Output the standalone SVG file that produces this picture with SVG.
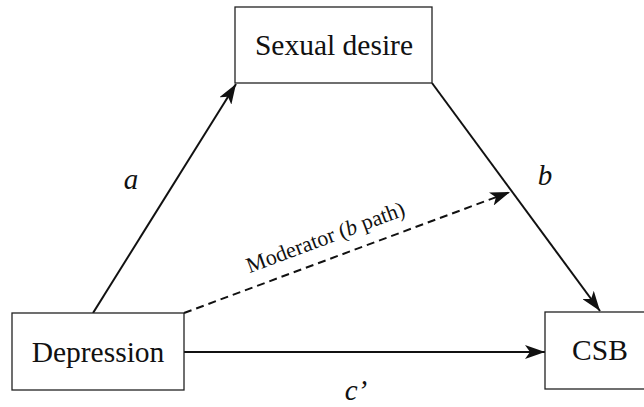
<svg xmlns="http://www.w3.org/2000/svg" width="644" height="407" viewBox="0 0 644 407">
<style>
.box{fill:#fff;stroke:#222;stroke-width:1.3}
.lbl{font-family:"Liberation Serif","Times New Roman",serif;font-size:29.5px;fill:#111;text-anchor:middle}
.it{font-family:"Liberation Serif","Times New Roman",serif;font-style:italic;font-size:29px;fill:#111;text-anchor:middle}
.mod{font-family:"Liberation Serif","Times New Roman",serif;font-size:22px;fill:#111;text-anchor:middle}
.edge{stroke:#111;stroke-width:2;fill:none}
.dash{stroke-dasharray:8,5}
</style>
<defs>
<marker id="ah" viewBox="0 0 20 14" refX="20" refY="7" markerWidth="20" markerHeight="14" markerUnits="userSpaceOnUse" orient="auto">
<path d="M0,0 L20,7 L0,14 L5,7 Z" fill="#111"/>
</marker>
</defs>
<g id="connectors">
<line class="edge" x1="93" y1="313" x2="236" y2="84" marker-end="url(#ah)"/>
<line class="edge" x1="432" y1="83" x2="600" y2="311" marker-end="url(#ah)"/>
<line class="edge dash" x1="184" y1="313" x2="510" y2="192" marker-end="url(#ah)"/>
<line class="edge" x1="184" y1="352" x2="545" y2="352" marker-end="url(#ah)"/>
<text class="it" x="131" y="189">a</text>
<text class="it" x="545" y="185">b</text>
<text class="it" x="356" y="400">c’</text>
<text class="mod" transform="translate(328,244) rotate(-20.4)">Moderator (<tspan font-style="italic">b</tspan> path)</text>
</g>
<g id="sexual-desire">
<rect class="box" x="235" y="7" width="197" height="76"/>
<text class="lbl" x="334" y="55">Sexual desire</text>
</g>
<g id="depression">
<rect class="box" x="12" y="313" width="172" height="77"/>
<text class="lbl" x="98" y="362">Depression</text>
</g>
<g id="csb">
<rect class="box" x="545" y="312" width="110" height="77"/>
<text class="lbl" x="600" y="360">CSB</text>
</g>
</svg>
